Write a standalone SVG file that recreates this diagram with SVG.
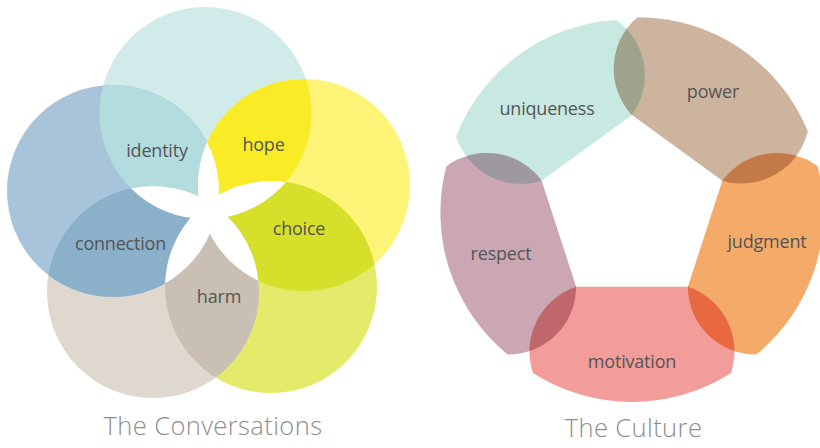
<svg xmlns="http://www.w3.org/2000/svg" width="820" height="448" viewBox="0 0 820 448">
<style>
.lbl{font-family:"Open Sans","Liberation Sans",sans-serif;font-size:18px;fill:#555555;text-anchor:middle;letter-spacing:-0.2px}
.ttl{font-family:"Open Sans","Liberation Sans",sans-serif;font-size:25.5px;font-weight:300;fill:#8e8e8e;text-anchor:middle;letter-spacing:0.4px}
</style>
<defs>
<circle id="cT" cx="205.5" cy="113" r="106"/>
<circle id="cY" cx="304" cy="185" r="106"/>
<circle id="cG" cx="271" cy="287" r="106"/>
<circle id="cR" cx="153" cy="292" r="106"/>
<circle id="cB" cx="113" cy="191" r="106"/>
<clipPath id="kT"><use href="#cT"/></clipPath>
<clipPath id="kY"><use href="#cY"/></clipPath>
<clipPath id="kG"><use href="#cG"/></clipPath>
<clipPath id="kR"><use href="#cR"/></clipPath>
<clipPath id="kB"><use href="#cB"/></clipPath>
<path id="sM" transform="translate(632 210)" d="M-55.84,76.86 L55.84,76.86 A68,68 0 0 1 99,163 A183.5,183.5 0 0 1 -99,163 A68,68 0 0 1 -55.84,76.86Z"/>
<path id="sR" transform="translate(632 210) rotate(72)" d="M-55.84,76.86 L55.84,76.86 A68,68 0 0 1 99,163 A183.5,183.5 0 0 1 -99,163 A68,68 0 0 1 -55.84,76.86Z"/>
<path id="sU" transform="translate(632 210) rotate(144)" d="M-55.84,76.86 L55.84,76.86 A68,68 0 0 1 99,163 A183.5,183.5 0 0 1 -99,163 A68,68 0 0 1 -55.84,76.86Z"/>
<path id="sP" transform="translate(632 210) rotate(216)" d="M-55.84,76.86 L55.84,76.86 A68,68 0 0 1 109,159 A183.5,183.5 0 0 1 -96,167 A68,68 0 0 1 -55.84,76.86Z"/>
<path id="sJ" transform="translate(632 210) rotate(288)" d="M-55.84,76.86 L55.84,76.86 A68,68 0 0 1 99,163 A183.5,183.5 0 0 1 -99,163 A68,68 0 0 1 -55.84,76.86Z"/>
<clipPath id="kM"><use href="#sM"/></clipPath>
<clipPath id="kRs"><use href="#sR"/></clipPath>
<clipPath id="kU"><use href="#sU"/></clipPath>
<clipPath id="kP"><use href="#sP"/></clipPath>
<clipPath id="kJ"><use href="#sJ"/></clipPath>
</defs>
<rect width="820" height="448" fill="#ffffff"/>

<g id="conversations">
<g id="circles">
<use href="#cT" fill="#d0ebea"/>
<use href="#cY" fill="#fef478"/>
<use href="#cG" fill="#e4eb6a"/>
<use href="#cR" fill="#ded8ce"/>
<use href="#cB" fill="#a8c4da"/>
</g>
<g id="identity"><g clip-path="url(#kT)"><use href="#cB" fill="#b2dcdd"/></g><text class="lbl" x="157" y="157">identity</text></g>
<g id="hope"><g clip-path="url(#kT)"><use href="#cY" fill="#f9ec26"/></g><text class="lbl" x="263.5" y="151">hope</text></g>
<g id="choice"><g clip-path="url(#kY)"><use href="#cG" fill="#d6df2a"/></g><text class="lbl" x="299" y="235">choice</text></g>
<g id="harm"><g clip-path="url(#kG)"><use href="#cR" fill="#c9c0b3"/></g><text class="lbl" x="219" y="303">harm</text></g>
<g id="connection"><g clip-path="url(#kR)"><use href="#cB" fill="#8bb0ca"/></g><text class="lbl" x="120.5" y="250">connection</text></g>
<g id="center-star" fill="#ffffff">
<g clip-path="url(#kB)"><use href="#cY"/></g>
<g clip-path="url(#kT)"><use href="#cG"/></g>
<g clip-path="url(#kY)"><use href="#cR"/></g>
<g clip-path="url(#kG)"><use href="#cB"/></g>
<g clip-path="url(#kR)"><use href="#cT"/></g>
</g>
<text class="ttl" x="213" y="435">The Conversations</text>
</g>

<g id="culture">
<g id="uniqueness"><use href="#sU" fill="#c8e9e2"/></g>
<g id="power"><use href="#sP" fill="#cdb49e"/></g>
<g id="judgment"><use href="#sJ" fill="#f4aa68"/></g>
<g id="motivation"><use href="#sM" fill="#f39d9b"/></g>
<g id="respect"><use href="#sR" fill="#caa7b2"/></g>
<g id="overlaps">
<g clip-path="url(#kU)"><use href="#sP" fill="#a0a38b"/></g>
<g clip-path="url(#kP)"><use href="#sJ" fill="#c47a48"/></g>
<g clip-path="url(#kJ)"><use href="#sM" fill="#e8693f"/></g>
<g clip-path="url(#kM)"><use href="#sR" fill="#c0676c"/></g>
<g clip-path="url(#kRs)"><use href="#sU" fill="#9e999e"/></g>
</g>
<text class="lbl" x="547" y="115">uniqueness</text>
<text class="lbl" x="713" y="98">power</text>
<text class="lbl" x="767" y="248">judgment</text>
<text class="lbl" x="501" y="260">respect</text>
<text class="lbl" x="632" y="368">motivation</text>
<text class="ttl" x="633.5" y="437">The Culture</text>
</g>
</svg>
